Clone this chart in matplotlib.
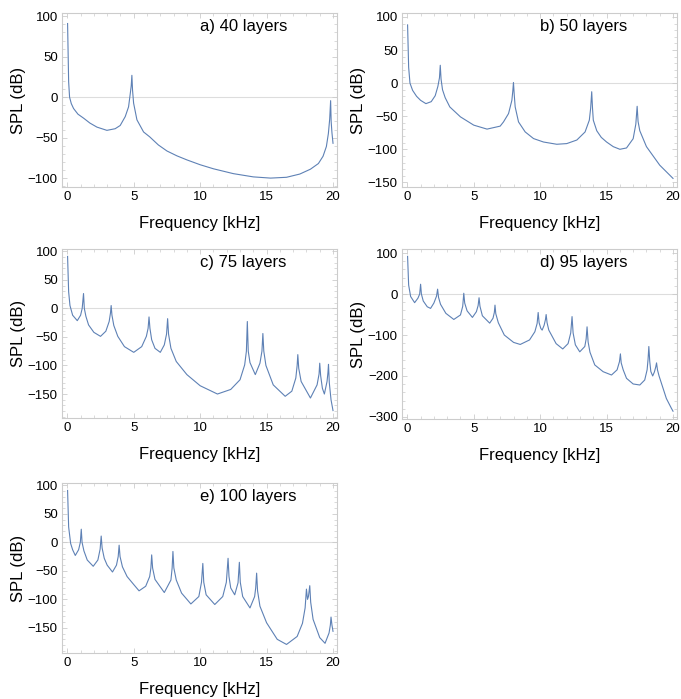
import matplotlib
matplotlib.use('Agg')
import matplotlib.pyplot as plt
from matplotlib.ticker import MultipleLocator

plt.rcParams['font.family'] = ['Liberation Sans', 'DejaVu Sans']

LINE_COLOR = '#5e81b5'
FRAME_COLOR = '#cccccc'

# Read-off points for each panel: frequency (kHz) and SPL (dB)
freq_a = [0.02, 0.1, 0.17, 0.3, 0.47, 0.8, 1.23, 1.7, 2.23, 2.98, 3.6, 3.98, 4.36, 4.61, 4.74,
          4.81, 4.86, 4.91, 4.99, 5.24, 5.74, 6.2, 6.85, 7.5, 8.25, 9.0, 10.0, 11.0, 12.5, 14.0,
          15.3, 16.5, 17.5, 18.3, 18.9, 19.25, 19.5, 19.65, 19.75, 19.82, 19.86, 19.92, 20.0]
spl_a = [91, 19, 0, -8, -14, -21, -26, -32, -37, -41, -39, -35, -24, -12, 4.6,
         14, 27, 8.6, -7.4, -28, -43, -49, -59, -66.5, -72.5, -77.5, -83.5, -88.5, -94.5, -98.5,
         -100, -99, -95, -89, -82, -73, -61, -45, -27, -4.3, -30, -44, -57]

freq_b = [0.02, 0.1, 0.2, 0.4, 0.7, 1.0, 1.4, 1.8, 2.1, 2.3, 2.42, 2.48, 2.54, 2.65, 2.85, 3.2,
          4.0, 5.0, 6.0, 6.99, 7.24, 7.62, 7.87, 7.94, 7.99, 8.05, 8.12, 8.37, 8.87, 9.5,
          10.25, 11.25, 12.0, 12.76, 13.38, 13.7, 13.8, 13.88, 13.94, 14.0, 14.26, 14.6,
          15.0, 15.5, 16.0, 16.5, 17.0, 17.2, 17.3, 17.37, 17.5, 18.0, 19.0, 20.0]
spl_b = [88, 24, 0, -11, -20, -26, -31, -28, -19, -5, 8, 27, 6, -10, -22, -36,
         -51, -63.5, -69.5, -65, -58.6, -46, -26, -12, 1, -18, -36, -58.6, -73.7, -83.8,
         -89, -92.4, -91.4, -86, -73.8, -56, -38, -13, -38, -56, -72, -82,
         -89, -96, -100, -98, -84, -62, -35, -58, -72, -96, -124, -144]

freq_c = [0.02, 0.1, 0.2, 0.4, 0.75, 1.0, 1.12, 1.22, 1.28, 1.4, 1.6, 2.0, 2.5, 2.9, 3.15, 3.25,
          3.3, 3.36, 3.5, 3.8, 4.3, 5.0, 5.6, 5.95, 6.08, 6.15, 6.22, 6.35, 6.6, 7.0, 7.3,
          7.47, 7.55, 7.62, 7.8, 8.2, 9.0, 10.0, 11.3, 12.3, 13.0, 13.35, 13.48, 13.55, 13.62,
          13.75, 14.15, 14.5, 14.65, 14.72, 14.79, 14.95, 15.5, 16.4, 16.9, 17.2, 17.3, 17.35,
          17.42, 17.6, 18.3, 18.8, 18.95, 19.0, 19.07, 19.2, 19.35, 19.55, 19.62, 19.66,
          19.72, 19.85, 20.0]
spl_c = [91, 29, 5, -12, -21.5, -12, 0, 26, 0, -14, -29, -42, -49, -40, -23, -8,
         5, -12, -30, -49, -67, -77, -67, -49, -35, -15, -35, -55, -70, -77, -64,
         -45, -18, -45, -70, -93, -116, -135.5, -150, -142, -125, -99, -75, -23, -75,
         -95, -116, -96, -75, -44, -75, -100, -134, -154, -145, -122, -100, -81,
         -105, -128, -157, -134, -115, -96, -118, -140, -150, -128, -112, -98,
         -130, -160, -179]

freq_d = [0.02, 0.1, 0.25, 0.55, 0.8, 0.93, 1.0, 1.06, 1.2, 1.5, 1.75, 2.0, 2.2, 2.28, 2.35,
          2.5, 2.9, 3.5, 4.0, 4.17, 4.25, 4.32, 4.5, 4.9, 5.2, 5.33, 5.4, 5.47, 5.65, 6.2,
          6.45, 6.55, 6.6, 6.66, 6.85, 7.3, 8.0, 8.5, 9.2, 9.6, 9.77, 9.85, 9.92, 10.05,
          10.15, 10.3, 10.4, 10.45, 10.52, 10.65, 11.2, 11.7, 12.1, 12.3, 12.4, 12.48, 12.65,
          12.98, 13.36, 13.46, 13.53, 13.61, 13.75, 14.11, 14.74, 15.37, 15.79, 15.97, 16.04,
          16.1, 16.25, 16.5, 17.0, 17.5, 17.87, 18.05, 18.12, 18.18, 18.25, 18.33, 18.47,
          18.6, 18.7, 18.76, 18.83, 18.95, 19.25, 19.5, 19.88, 20.0]
spl_d = [92, 22, -6, -21, -10, 0, 24, 0, -17, -31, -35, -22, -5, 12, -8,
         -25, -47, -62, -51, -30, 2, -22, -41, -57, -43, -28, -9, -30, -53, -71,
         -59, -45, -27, -48, -70, -100, -118, -123, -112, -92, -72, -45, -70, -84,
         -88, -76, -62, -50, -70, -88, -121, -134, -121, -95, -55, -95, -124,
         -141, -128, -110, -80, -117, -142, -173, -189.5, -197.6, -185, -165, -146,
         -168, -185, -205.7, -219.5, -222, -209.8, -185, -160, -128, -165, -189, -200,
         -190, -178, -168, -185, -200, -230, -255, -279, -286]

freq_e = [0.02, 0.1, 0.25, 0.4, 0.6, 0.85, 0.98, 1.05, 1.11, 1.25, 1.5, 1.95, 2.3, 2.47, 2.55,
          2.62, 2.78, 3.0, 3.4, 3.7, 3.83, 3.9, 3.97, 4.15, 4.5, 5.0, 5.4, 5.9, 6.2, 6.29,
          6.35, 6.42, 6.6, 7.3, 7.8, 7.89, 7.95, 8.02, 8.2, 8.6, 9.3, 9.9, 10.1, 10.2, 10.27,
          10.45, 11.1, 11.7, 11.97, 12.1, 12.17, 12.3, 12.6, 12.85, 12.95, 13.02, 13.2, 13.75,
          14.1, 14.18, 14.25, 14.32, 14.5, 15.0, 15.8, 16.5, 17.3, 17.7, 17.9, 18.0, 18.08,
          18.15, 18.25, 18.32, 18.5, 19.0, 19.4, 19.7, 19.8, 19.85, 19.92, 20.0]
spl_e = [91, 27, -2, -13, -23, -13, 0, 23, 0, -15, -31, -42, -31, -12, 11,
         -10, -28, -40, -52, -40, -25, -5, -25, -43, -60, -74, -85, -77, -60, -45,
         -22, -45, -65, -88, -66, -45, -16, -45, -66, -89, -108, -95, -70, -37, -70,
         -92, -109, -95, -70, -28, -60, -80, -92, -71, -35, -70, -95, -115,
         -95, -80, -54, -85, -112, -141, -170, -179, -165, -142, -115, -82, -100,
         -95, -76, -105, -135, -167, -177, -159, -145, -131, -145, -156]

panels = [
    ('a) 40 layers', freq_a, spl_a, (-111, 104), [-100, -50, 0, 50, 100]),
    ('b) 50 layers', freq_b, spl_b, (-157, 106), [-150, -100, -50, 0, 50, 100]),
    ('c) 75 layers', freq_c, spl_c, (-192, 104), [-150, -100, -50, 0, 50, 100]),
    ('d) 95 layers', freq_d, spl_d, (-305, 110), [-300, -200, -100, 0, 100]),
    ('e) 100 layers', freq_e, spl_e, (-194, 104), [-150, -100, -50, 0, 50, 100]),
]

W, H = 681, 699
# axes boxes in pixels: left, top, right, bottom
boxes = [
    (62, 13, 337, 187),
    (402, 13, 677, 187),
    (62, 249, 337, 418),
    (402, 249, 677, 419),
    (62, 483, 337, 653),
]

fig = plt.figure(figsize=(W / 100, H / 100), dpi=100)

for (title, f, s, ylim, yticks), (l, t, r, b) in zip(panels, boxes):
    ax = fig.add_axes([l / W, 1 - b / H, (r - l) / W, (b - t) / H])
    ax.axhline(0, color='#dddddd', linewidth=0.8, zorder=1)
    ax.plot(f, s, color=LINE_COLOR, linewidth=0.8, zorder=2)
    ax.set_xlim(-0.4, 20.3)
    ax.set_ylim(*ylim)
    ax.set_xticks([0, 5, 10, 15, 20])
    ax.set_yticks(yticks)
    ax.xaxis.set_minor_locator(MultipleLocator(1))
    step = yticks[1] - yticks[0]
    ax.yaxis.set_minor_locator(MultipleLocator(step / 5))
    for sp in ax.spines.values():
        sp.set_color(FRAME_COLOR)
        sp.set_linewidth(0.8)
    ax.tick_params(which='both', direction='in', color=FRAME_COLOR, top=True, right=True,
                   labelsize=9.5, pad=3, labelcolor='black')
    ax.tick_params(which='major', length=3.5, width=0.6)
    ax.tick_params(which='minor', length=2, width=0.5)
    ax.set_xlabel('Frequency [kHz]', fontsize=12, labelpad=9)
    ax.set_ylabel('SPL (dB)', fontsize=12, labelpad=1)
    ax.text(0.5, 0.92, title, transform=ax.transAxes, fontsize=12, ha='left', va='center')

fig.savefig('out.png', dpi=100, facecolor='white')
